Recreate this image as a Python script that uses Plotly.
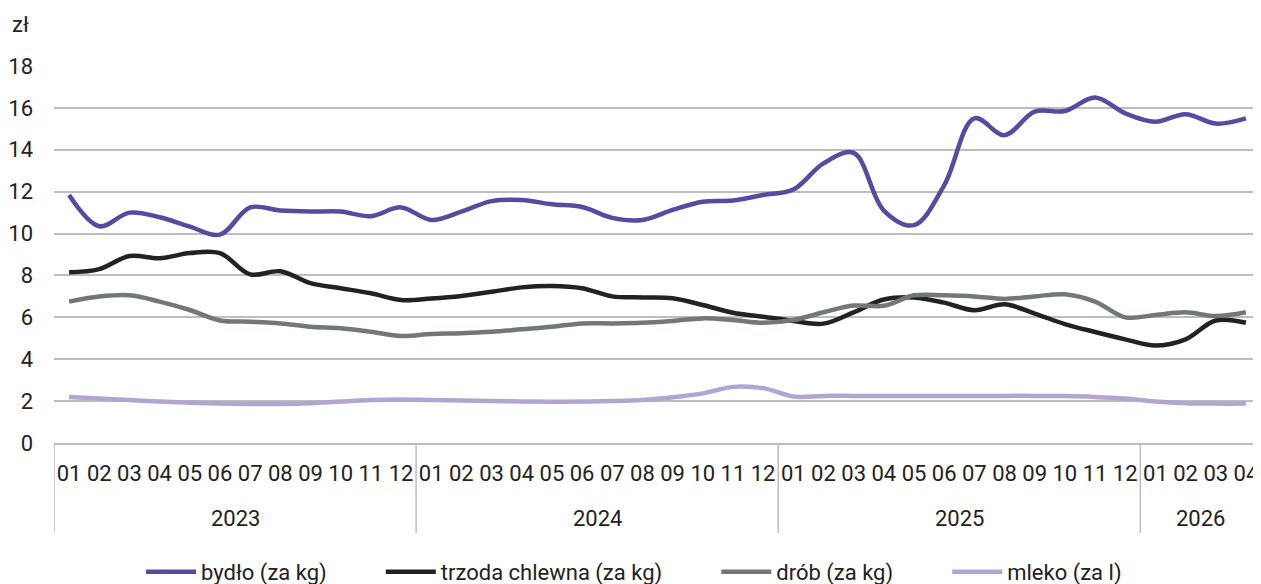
import plotly.graph_objects as go

year_names = ["2023", "2024", "2025", "2026"]
year_lengths = [12, 12, 12, 4]
months = [f"{m:02d}" for m in range(1, 13)] * 3 + ["01", "02", "03", "04"]
years = [y for y, n in zip(year_names, year_lengths) for _ in range(n)]
keys = [f"{y}-{m}" for y, m in zip(years, months)]

bydlo = [11.84, 10.35, 11.0, 10.78, 10.33, 9.95, 11.25, 11.1, 11.05, 11.05, 10.83, 11.25,
         10.65, 11.05, 11.55, 11.6, 11.4, 11.27, 10.75, 10.65, 11.13, 11.52, 11.58, 11.84,
         12.1, 13.35, 13.85, 11.1, 10.4, 12.3, 15.5, 14.7, 15.82, 15.85, 16.5, 15.74,
         15.34, 15.7, 15.25, 15.5]
trzoda = [8.15, 8.3, 8.93, 8.82, 9.07, 9.07, 8.05, 8.2, 7.63, 7.39, 7.15, 6.83,
          6.9, 7.02, 7.22, 7.43, 7.5, 7.39, 7.0, 6.95, 6.91, 6.59, 6.22, 6.03,
          5.83, 5.7, 6.24, 6.85, 6.95, 6.7, 6.34, 6.62, 6.18, 5.68, 5.3, 4.95,
          4.65, 4.95, 5.85, 5.74]
drob = [6.75, 6.99, 7.05, 6.75, 6.35, 5.85, 5.79, 5.71, 5.55, 5.48, 5.31, 5.11,
        5.2, 5.24, 5.31, 5.43, 5.55, 5.71, 5.71, 5.74, 5.83, 5.95, 5.87, 5.74,
        5.87, 6.24, 6.56, 6.55, 7.05, 7.05, 7.0, 6.88, 7.0, 7.1, 6.75, 6.0,
        6.11, 6.24, 6.06, 6.24]
mleko = [2.2, 2.12, 2.05, 1.98, 1.92, 1.88, 1.86, 1.86, 1.9, 1.98, 2.05, 2.08,
         2.05, 2.03, 2.0, 1.98, 1.97, 1.98, 2.0, 2.05, 2.18, 2.37, 2.68, 2.62,
         2.22, 2.25, 2.25, 2.25, 2.25, 2.25, 2.25, 2.25, 2.25, 2.24, 2.2, 2.12,
         1.98, 1.9, 1.88, 1.88]

NB = "\u00a0" * 9
series = [
    ("bydło (za kg)" + NB, bydlo, "#574AA0"),
    ("trzoda chlewna (za kg)" + NB, trzoda, "#222222"),
    ("drób (za kg)" + NB, drob, "#727777"),
    ("mleko (za l)", mleko, "#B2A5D3"),
]

FONT = "Roboto"
TXT = "#222222"
GRID = "#BDBDBD"
OFF = 8  # page body margin
W, H = 1261 - OFF, 584 - OFF
ML, MR, MT = 54 - OFF, 0, 66 - OFF
BOTTOM = 443 - OFF          # plot bottom in figure px
MB = H - BOTTOM
PW = W - ML - MR
PH = BOTTOM - MT


def py(page_y):
    return -(page_y - 443) / PH


fig = go.Figure()
for name, vals, col in series:
    fig.add_trace(go.Scatter(
        x=keys, y=vals, name=name, mode="lines",
        line=dict(color=col, width=4.5, shape="spline", smoothing=1),
    ))

fig.update_layout(
    width=W, height=H,
    margin=dict(l=ML, r=MR, t=MT, b=MB, autoexpand=False),
    plot_bgcolor="white", paper_bgcolor="white",
    font=dict(family=FONT, size=22, color=TXT),
    showlegend=True,
    legend=dict(orientation="h", x=(634 - OFF - ML) / PW, xanchor="center", y=py(572),
                yanchor="middle", font=dict(size=22, family=FONT, color=TXT), itemwidth=50,
                traceorder="normal"),
    xaxis=dict(type="category", categoryorder="array", categoryarray=keys,
               range=[-0.5, len(keys) - 0.5], automargin=False,
               tickmode="array", tickvals=keys, ticktext=months,
               showgrid=False, showline=True, linecolor=GRID, linewidth=1.5,
               ticks="", ticklabelstandoff=10,
               tickfont=dict(size=22, family=FONT, color=TXT)),
    yaxis=dict(range=[0, 18], dtick=2, showgrid=True, gridcolor=GRID, gridwidth=1.5,
               zeroline=False, showline=False, ticks="", ticklabelstandoff=20,
               automargin=False,
               tickfont=dict(size=22, family=FONT, color=TXT)),
)

# year group labels and dividers
start = 0
for yname, n in zip(year_names, year_lengths):
    fig.add_annotation(text=yname, xref="x", yref="paper", x=start + (n - 1) / 2,
                       y=py(518), xanchor="center", yanchor="middle",
                       showarrow=False, font=dict(size=22, family=FONT, color=TXT))
    fig.add_shape(type="line", xref="x", yref="paper", x0=start - 0.5, x1=start - 0.5,
                  y0=0, y1=py(533), line=dict(color=GRID, width=1.5))
    start += n

fig.add_annotation(text="zł", xref="paper", yref="paper", x=(10 - OFF - ML) / PW,
                   y=py(25), xanchor="left", yanchor="middle", showarrow=False,
                   font=dict(size=22, family=FONT, color=TXT))
fig.write_html("out.html")
